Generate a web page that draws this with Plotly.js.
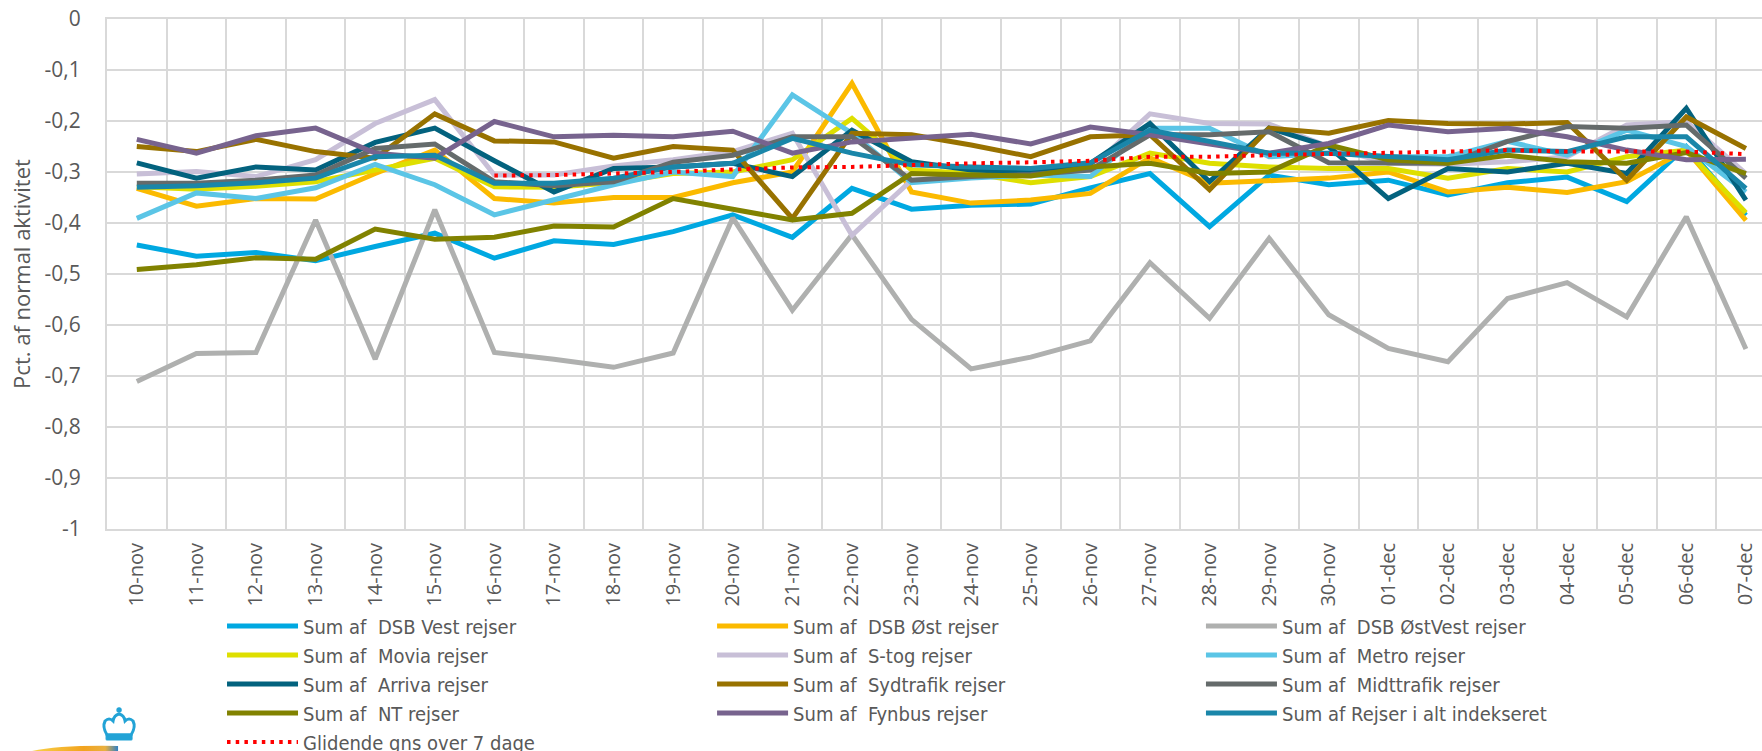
<!DOCTYPE html>
<html>
<head>
<meta charset="utf-8">
<script src="https://cdn.plot.ly/plotly-3.0.1.min.js"></script>
<style>
html,body{margin:0;padding:0;background:#fff;overflow:hidden;width:1762px;height:751px;}
#chart{width:1762px;height:770px;}
</style>
</head>
<body>
<div id="chart"></div>
<script>
// ---- data ----
var dates = ['10-nov','11-nov','12-nov','13-nov','14-nov','15-nov','16-nov','17-nov','18-nov','19-nov','20-nov','21-nov','22-nov','23-nov','24-nov','25-nov','26-nov','27-nov','28-nov','29-nov','30-nov','01-dec','02-dec','03-dec','04-dec','05-dec','06-dec','07-dec'];

var dsbVest    = [-0.443,-0.465,-0.458,-0.474,-0.446,-0.420,-0.469,-0.435,-0.442,-0.417,-0.384,-0.428,-0.332,-0.373,-0.365,-0.363,-0.331,-0.303,-0.407,-0.306,-0.325,-0.316,-0.345,-0.321,-0.310,-0.358,-0.250,-0.385];
var dsbOst     = [-0.332,-0.367,-0.352,-0.353,-0.303,-0.257,-0.352,-0.361,-0.350,-0.350,-0.321,-0.300,-0.126,-0.339,-0.361,-0.355,-0.342,-0.272,-0.322,-0.316,-0.312,-0.300,-0.339,-0.330,-0.340,-0.319,-0.257,-0.395];
var dsbOstVest = [-0.711,-0.656,-0.654,-0.394,-0.667,-0.374,-0.654,-0.667,-0.683,-0.655,-0.390,-0.571,-0.423,-0.589,-0.686,-0.663,-0.631,-0.478,-0.587,-0.430,-0.580,-0.646,-0.672,-0.548,-0.517,-0.584,-0.388,-0.647];
var movia      = [-0.329,-0.334,-0.328,-0.319,-0.296,-0.273,-0.329,-0.330,-0.321,-0.303,-0.300,-0.276,-0.195,-0.296,-0.303,-0.321,-0.309,-0.263,-0.283,-0.290,-0.293,-0.293,-0.312,-0.293,-0.300,-0.270,-0.257,-0.380];
var sTog       = [-0.304,-0.299,-0.309,-0.276,-0.205,-0.158,-0.306,-0.306,-0.288,-0.276,-0.260,-0.224,-0.424,-0.316,-0.310,-0.305,-0.293,-0.186,-0.205,-0.206,-0.250,-0.283,-0.285,-0.280,-0.270,-0.208,-0.201,-0.303];
var metro      = [-0.391,-0.341,-0.352,-0.331,-0.285,-0.325,-0.384,-0.355,-0.325,-0.300,-0.309,-0.149,-0.224,-0.321,-0.312,-0.306,-0.309,-0.214,-0.214,-0.270,-0.263,-0.270,-0.270,-0.240,-0.267,-0.218,-0.250,-0.339];
var arriva     = [-0.282,-0.312,-0.290,-0.296,-0.242,-0.214,-0.278,-0.339,-0.293,-0.290,-0.283,-0.309,-0.218,-0.280,-0.296,-0.300,-0.283,-0.205,-0.319,-0.214,-0.250,-0.352,-0.293,-0.300,-0.283,-0.303,-0.175,-0.355];
var sydtrafik  = [-0.250,-0.260,-0.236,-0.260,-0.273,-0.186,-0.239,-0.241,-0.273,-0.250,-0.257,-0.391,-0.224,-0.227,-0.247,-0.270,-0.231,-0.227,-0.335,-0.214,-0.224,-0.199,-0.205,-0.206,-0.203,-0.316,-0.192,-0.254];
var midttrafik = [-0.322,-0.322,-0.316,-0.306,-0.254,-0.245,-0.319,-0.327,-0.319,-0.281,-0.267,-0.231,-0.231,-0.316,-0.309,-0.305,-0.296,-0.227,-0.227,-0.221,-0.282,-0.283,-0.283,-0.240,-0.211,-0.214,-0.208,-0.312];
var nt         = [-0.491,-0.482,-0.468,-0.471,-0.412,-0.432,-0.428,-0.406,-0.408,-0.352,-0.373,-0.394,-0.381,-0.303,-0.306,-0.308,-0.290,-0.283,-0.303,-0.300,-0.247,-0.276,-0.283,-0.267,-0.280,-0.283,-0.262,-0.303];
var fynbus     = [-0.236,-0.263,-0.229,-0.214,-0.263,-0.273,-0.201,-0.231,-0.228,-0.231,-0.220,-0.263,-0.241,-0.234,-0.226,-0.245,-0.212,-0.227,-0.244,-0.263,-0.244,-0.208,-0.221,-0.214,-0.231,-0.257,-0.276,-0.275];
var rejserIAlt = [-0.330,-0.327,-0.321,-0.312,-0.270,-0.267,-0.322,-0.322,-0.312,-0.290,-0.283,-0.234,-0.263,-0.286,-0.290,-0.293,-0.282,-0.218,-0.240,-0.263,-0.263,-0.270,-0.276,-0.257,-0.260,-0.231,-0.231,-0.332];
var glidende   = [null,null,null,null,null,null,-0.307,-0.306,-0.303,-0.300,-0.295,-0.291,-0.290,-0.286,-0.283,-0.281,-0.278,-0.270,-0.270,-0.267,-0.265,-0.262,-0.260,-0.257,-0.260,-0.260,-0.260,-0.265];

var yTickVals = [0,-0.1,-0.2,-0.3,-0.4,-0.5,-0.6,-0.7,-0.8,-0.9,-1];
var yTickText = ['0','-0,1','-0,2','-0,3','-0,4','-0,5','-0,6','-0,7','-0,8','-0,9','-1'];

var seriesNames = [
  'Sum af\u00a0 DSB Vest rejser','Sum af\u00a0 DSB \u00d8st rejser','Sum af\u00a0 DSB \u00d8stVest rejser',
  'Sum af\u00a0 Movia rejser','Sum af\u00a0 S-tog rejser','Sum af\u00a0 Metro rejser',
  'Sum af\u00a0 Arriva rejser','Sum af\u00a0 Sydtrafik rejser','Sum af\u00a0 Midttrafik rejser',
  'Sum af\u00a0 NT rejser','Sum af\u00a0 Fynbus rejser','Sum af Rejser i alt indekseret',
  'Glidende gns over 7 dage'
];
var seriesValues = [dsbVest,dsbOst,dsbOstVest,movia,sTog,metro,arriva,sydtrafik,midttrafik,nt,fynbus,rejserIAlt,glidende];
var seriesColors = ['#00A8E1','#FBBA00','#AFB0AF','#DEDF00','#C8BFD7','#5BC5E6','#03627E','#987200','#656B6B','#818200','#77638E','#1A86A9','#FF0000'];
var legendIds = ['legend','legend2','legend3','legend','legend2','legend3','legend','legend2','legend3','legend','legend2','legend3','legend'];

var traces = seriesValues.map(function(v, i){
  var isAvg = (i === 12);
  return {
    type: 'scatter', mode: 'lines',
    x: dates, y: v, name: seriesNames[i],
    legend: legendIds[i],
    line: {color: seriesColors[i], width: isAvg ? 4 : 5, dash: isAvg ? '3.5px,5.2px' : 'solid'},
    connectgaps: false
  };
});

var txtColor = '#595959';
var legendFont = {family: 'Liberation Sans Narrow, DejaVu Sans Condensed, Arial Narrow, sans-serif', size: 20, color: txtColor};
function legendCfg(x){
  return {x: x, xanchor: 'left', y: -0.152, yanchor: 'top', orientation: 'v',
          font: legendFont, bgcolor: 'rgba(0,0,0,0)', itemwidth: 71, tracegroupgap: 0, traceorder: 'normal'};
}

var crownSvg = "<svg xmlns='http://www.w3.org/2000/svg' width='115' height='46' viewBox='0 0 115 46'>" +
  "<defs><linearGradient id='g' x1='0' x2='1' y1='0' y2='0'>" +
  "<stop offset='0' stop-color='#F8D24A'/><stop offset='0.6' stop-color='#F2A31E'/><stop offset='0.85' stop-color='#E9B040'/><stop offset='1' stop-color='#2F7FC4'/></linearGradient></defs>" +
  "<path d='M2 46 Q30 40 88 41 L88 46 Z' fill='url(#g)'/>" +
  "<g fill='#22A3D6' stroke='#22A3D6'>" +
  "<circle cx='89' cy='5' r='2.2'/>" +
  "<path d='M77 30 Q72 22 75 16 Q79 12 83 16 Q84 10 89 9 Q94 10 95 16 Q99 12 103 16 Q106 22 101 30 Z' fill='none' stroke-width='3'/>" +
  "<rect x='76' y='29' width='26' height='6' rx='1'/>" +
  "</g></svg>";

var layout = {
  width: 1762, height: 770,
  margin: {l: 107, r: 0, t: 19, b: 241, pad: 0},
  paper_bgcolor: '#ffffff', plot_bgcolor: '#ffffff',
  showlegend: true,
  xaxis: {
    type: 'category', range: [-0.5, 27.27], tickson: 'boundaries',
    showgrid: true, gridcolor: '#D9D9D9', gridwidth: 2,
    showline: true, mirror: true, linecolor: '#D9D9D9', linewidth: 2,
    ticks: '', tickangle: -90, ticklabelstandoff: 4,
    tickfont: {family: 'Open Sans, sans-serif', size: 20, color: txtColor},
    fixedrange: true
  },
  yaxis: {
    range: [-1, 0], tickvals: yTickVals, ticktext: yTickText,
    showgrid: true, gridcolor: '#D9D9D9', gridwidth: 2, zeroline: false,
    showline: true, linecolor: '#D9D9D9', linewidth: 2,
    ticks: '', ticklabelstandoff: 20,
    tickfont: {family: 'Open Sans, sans-serif', size: 21, color: txtColor},
    title: {text: 'Pct. af normal aktivitet', font: {family: 'Open Sans, sans-serif', size: 22, color: txtColor}, standoff: 8},
    fixedrange: true
  },
  legend: legendCfg(0.0695),
  legend2: legendCfg(0.3656),
  legend3: legendCfg(0.661),
  images: [{
    source: 'data:image/svg+xml;charset=utf-8,' + encodeURIComponent(crownSvg),
    xref: 'paper', yref: 'paper', x: -0.0465, y: -0.4353, sizex: 0.0695, sizey: 0.0902,
    xanchor: 'left', yanchor: 'bottom', sizing: 'stretch', layer: 'above'
  }]
};

Plotly.newPlot('chart', traces, layout, {displayModeBar: false, staticPlot: true});
</script>
</body>
</html>
